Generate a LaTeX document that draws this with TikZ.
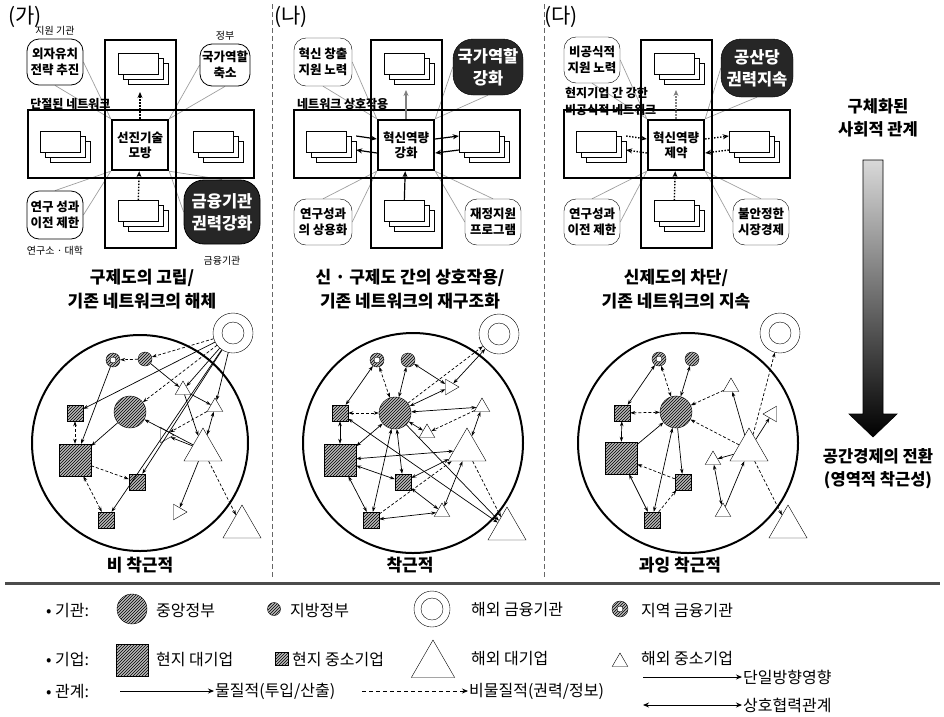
\documentclass[tikz,border=0pt]{standalone}
\usepackage{fontspec}
\setmainfont{Noto Sans CJK KR}
\usetikzlibrary{arrows.meta,shapes.geometric,patterns,shadows,positioning}
\pgfdeclarelayer{back}
\pgfsetlayers{back,main}

\tikzset{
  frame/.style={draw, line width=2.4pt},
  card/.style={draw, fill=white, minimum width=40pt, minimum height=21pt, inner sep=0pt,
    double copy shadow={shadow xshift=5pt, shadow yshift=-5pt, draw=black, fill=white}},
  hub/.style={draw, fill=white, line width=2.4pt, minimum width=56pt, minimum height=50pt,
    inner sep=0pt, align=center, font=\bfseries\fontsize{12.5}{15}\selectfont},
  bubble/.style={draw, fill=white, rounded corners=12pt, inner sep=0pt, align=center,
    font=\bfseries\fontsize{12.5}{15.5}\selectfont},
  darkbubble/.style={bubble, fill=black!85, text=white, rounded corners=20pt,
    font=\bfseries\fontsize{16.5}{22}\selectfont},
  tag/.style={inner sep=0pt, font=\fontsize{10}{12}\selectfont},
  netlabel/.style={inner sep=0pt, anchor=west, align=left, font=\bfseries\fontsize{12}{17}\selectfont},
  pointer/.style={draw=gray!75, line width=0.7pt},
  dotarrow/.style={line width=1.4pt, dash pattern=on 1.4pt off 1.6pt, -{Stealth[length=6pt,width=5pt]}},
  flow/.style={line width=1.2pt, -{Stealth[length=6pt,width=5pt]}},
  paneltitle/.style={align=center, font=\bfseries\fontsize{17}{24}\selectfont},
  panelno/.style={font=\fontsize{21}{23}\selectfont},
  sidetext/.style={align=center, font=\bfseries\fontsize{16.5}{23}\selectfont},
  legtext/.style={anchor=west, inner sep=1pt, font=\fontsize{16}{18}\selectfont},
  hatch/.style={preaction={fill=gray!55}, pattern=north east lines},
  cgov/.style={circle, draw, hatch, minimum size=32pt, inner sep=0pt},
  lgov/.style={circle, draw, hatch, minimum size=14pt, inner sep=0pt},
  rfin/.style={lgov, path picture={\draw[fill=white] (path picture bounding box.center) circle (3pt);}},
  ffin/.style={circle, draw, fill=white, minimum size=40pt, inner sep=0pt,
    path picture={\draw (path picture bounding box.center) circle (11pt);}},
  lbig/.style={rectangle, draw, hatch, minimum size=32pt, inner sep=0pt},
  lsme/.style={rectangle, draw, hatch, minimum size=16pt, inner sep=0pt},
  fbig/.style={regular polygon, regular polygon sides=3, draw, fill=white, minimum size=44pt, inner sep=0pt},
  fsme/.style={regular polygon, regular polygon sides=3, draw, fill=white, minimum size=18pt, inner sep=0pt},
  rel/.style={line width=0.7pt, -{Stealth[length=5pt,width=3.5pt]}},
  mutual/.style={line width=0.7pt, {Stealth[length=5pt,width=3.5pt]}-{Stealth[length=5pt,width=3.5pt]}},
  soft/.style={dash pattern=on 3pt off 2pt},
  sep/.style={draw=black!60, line width=0.8pt, dash pattern=on 5pt off 3pt},
}

\begin{document}
\begin{tikzpicture}[x=1pt, y=-1pt, line width=0.8pt]
\useasboundingbox (0,0) rectangle (944,716);

% (가)
\node[panelno] (pa) at (25,17) {(가)};
\draw[frame] (105,40) rectangle (176,248);
\draw[frame] (28,110) rectangle (254,178);
\node[card] (aN) at (138,64) {};
\node[card] (aW) at (60,142) {};
\node[card] (aE) at (213,142) {};
\node[card] (aS) at (138,211) {};
\node[hub] (aC) at (140,145) {선진기술\\모방};
\node[bubble, minimum width=56pt, minimum height=46pt] (aTL) at (55,62) {외자유치\\전략 추진};
\node[bubble, minimum width=50pt, minimum height=42pt] (aTR) at (225,65) {국가역할\\축소};
\node[bubble, minimum width=56pt, minimum height=48pt] (aBL) at (55,215) {연구 성과\\이전 제한};
\node[darkbubble, minimum width=76pt, minimum height=64pt] (aBR) at (222,212) {금융기관\\권력강화};
\node[tag, above=3pt of aTL] (aTLt) {지원 기관};
\node[tag, above=3pt of aTR] (aTRt) {정부};
\node[tag, below=6pt of aBL] (aBLt) {연구소 · 대학};
\node[tag, below=11pt of aBR] (aBRt) {금융기관};
\node[netlabel] (aNet) at (30,104) {단절된 네트워크};
\coordinate (aNtip) at (140,92);
\draw[dotarrow] (aC) -- (aNtip);
\draw[dotarrow] (aS) -- (aC);
\begin{pgfonlayer}{back}
  \draw[pointer] (aTL.east) -- (aC.north west) -- (aTL.south);
  \draw[pointer] (aTR.west) -- (aC.north east) -- (aTR.south);
  \draw[pointer] (aBL.north) -- (aC.south west) -- (aBL.east);
  \draw[pointer] (aBR.north) -- (aC.south east) -- (aBR.west);
\end{pgfonlayer}

% (나)
\begin{scope}[xshift=266pt]
\node[panelno] (pb) at (25,17) {(나)};
\draw[frame] (105,40) rectangle (176,248);
\draw[frame] (28,110) rectangle (254,178);
\node[card] (bN) at (138,64) {};
\node[card] (bW) at (60,142) {};
\node[card] (bE) at (213,142) {};
\node[card] (bS) at (138,211) {};
\node[hub] (bC) at (140,145) {혁신역량\\강화};
\node[bubble, minimum width=58pt, minimum height=48pt] (bTL) at (57,62) {혁신 창출\\지원 노력};
\node[darkbubble, minimum width=70pt, minimum height=56pt] (bTR) at (222,67) {국가역할\\강화};
\node[bubble, minimum width=58pt, minimum height=46pt] (bBL) at (57,222) {연구성과\\의 상용화};
\node[bubble, minimum width=56pt, minimum height=46pt] (bBR) at (227,222) {재정지원\\프로그램};
\node[netlabel] (bNet) at (31,104) {네트워크 상호작용};
\coordinate (bNtip) at (140,90);
\draw[flow, gray] (bC) -- (bNtip);
\draw[flow] ([xshift=10pt,yshift=6pt]bW.east) -- ([yshift=6pt]bC.west);
\draw[flow] ([yshift=-8pt]bC.west) -- ([xshift=10pt,yshift=-8pt]bW.east);
\draw[flow] ([yshift=6pt]bC.east) -- ([yshift=6pt]bE.west);
\draw[flow] ([yshift=-8pt]bE.west) -- ([yshift=-8pt]bC.east);
\draw[flow] (bS) -- (bC);
\begin{pgfonlayer}{back}
  \draw[pointer] (bTL.east) -- (bC.north west) -- (bTL.south);
  \draw[pointer] (bTR.west) -- (bC.north east) -- (bTR.south);
  \draw[pointer] (bBL.north) -- (bC.south west) -- (bBL.east);
  \draw[pointer] (bBR.north) -- (bC.south east) -- (bBR.west);
\end{pgfonlayer}
\end{scope}

% (다)
\begin{scope}[xshift=536pt]
\node[panelno] (pc) at (25,17) {(다)};
\draw[frame] (105,40) rectangle (176,248);
\draw[frame] (28,110) rectangle (254,178);
\node[card] (cN) at (138,64) {};
\node[card] (cW) at (60,142) {};
\node[card] (cE) at (213,142) {};
\node[card] (cS) at (138,211) {};
\node[hub] (cC) at (140,145) {혁신역량\\제약};
\node[bubble, minimum width=56pt, minimum height=46pt] (cTL) at (56,60) {비공식적\\지원 노력};
\node[darkbubble, minimum width=72pt, minimum height=58pt] (cTR) at (221,68) {공산당\\권력지속};
\node[bubble, minimum width=56pt, minimum height=46pt] (cBL) at (56,222) {연구성과\\이전 제한};
\node[bubble, minimum width=56pt, minimum height=46pt] (cBR) at (225,222) {불안정한\\시장경제};
\node[netlabel] (cNet) at (29,101) {현지기업 간 강한\\비공식적 네트워크};
\coordinate (cNtip) at (140,90);
\draw[dotarrow, gray] (cC) -- (cNtip);
\draw[dotarrow] ([xshift=10pt,yshift=6pt]cW.east) -- ([yshift=6pt]cC.west);
\draw[dotarrow] ([yshift=-8pt]cC.west) -- ([xshift=10pt,yshift=-8pt]cW.east);
\draw[dotarrow] ([yshift=6pt]cC.east) -- ([yshift=6pt]cE.west);
\draw[dotarrow] ([yshift=-8pt]cE.west) -- ([yshift=-8pt]cC.east);
\draw[dotarrow] (cS) -- (cC);
\begin{pgfonlayer}{back}
  \draw[pointer] (cTL.east) -- (cC.north west) -- (cTL.south);
  \draw[pointer] (cTR.west) -- (cC.north east) -- (cTR.south);
  \draw[pointer] (cBL.north) -- (cC.south west) -- (cBL.east);
  \draw[pointer] (cBR.north) -- (cC.south east) -- (cBR.west);
\end{pgfonlayer}
\end{scope}

% titles
\node[paneltitle] (ta) at (142,289) {구제도의 고립/\\기존 네트워크의 해체};
\node[paneltitle] (tb) at (410,289) {신 · 구제도 간의 상호작용/\\기존 네트워크의 재구조화};
\node[paneltitle] (tc) at (676,289) {신제도의 차단/\\기존 네트워크의 지속};
\node[paneltitle] (ba) at (140,565) {비 착근적};
\node[paneltitle] (bb) at (410,565) {착근적};
\node[paneltitle] (bc) at (680,565) {과잉 착근적};

% separators
\draw[sep] (272,4) -- (272,578);
\draw[sep] (544,4) -- (544,578);

% right arrow
\node[sidetext] (rt) at (878,118) {구체화된\\사회적 관계};
\shadedraw[top color=gray!30, bottom color=black, line width=0.6pt]
  (863,160) -- (883,160) -- (883,414) -- (897,414) -- (873,437) -- (849,414) -- (863,414) -- cycle;
\node[sidetext] (rb) at (878,469) {공간경제의 전환\\(영역적 착근성)};

% network (가)
\draw[line width=2pt] (140,443) circle (108);
\node[ffin] (aFF) at (233,333) {};
\node[rfin] (aRF) at (113,360) {};
\node[lgov] (aLG) at (145,359) {};
\node[cgov] (aCG) at (130,412) {};
\node[lsme] (aS1) at (75,413) {};
\node[lbig] (aL1) at (75,460) {};
\node[lsme] (aS2) at (137,482) {};
\node[lsme] (aS3) at (106,520) {};
\node[fsme] (aT1) at (183,390) {};
\node[fsme] (aT2) at (215,407) {};
\node[fsme, shape border rotate=-90] (aT3) at (165,435) {};
\node[fbig] (aTB) at (203,450) {};
\node[fsme, shape border rotate=-90] (aT4) at (178,512) {};
\node[fbig] (aTF) at (242,527) {};
\draw[rel,soft] (aFF) -- (aLG);
\draw[rel,soft] (aLG) -- (aRF);
\draw[rel] (aFF) -- (aS1);
\draw[rel,soft] (aFF) -- (aCG);
\draw[rel] (aFF) -- (aS2);
\draw[rel] (aFF) -- (aS3);
\draw[rel] (aFF) -- (aT1);
\draw[rel] (aFF) -- (aT2);
\draw[rel] (aRF) -- (aL1);
\draw[rel] (aCG) -- (aL1);
\draw[rel] (aTB) -- (aCG);
\draw[rel] (aTB) -- (aT3);
\draw[rel,soft] (aT2) -- (aT3);
\draw[rel] (aLG) -- (aT1);
\draw[rel] (aT1) -- (aTB);
\draw[rel] (aT1) -- (aT2);
\draw[mutual] (aT2) -- (aTB);
\draw[rel] (aTB) -- (aT4);
\draw[rel,soft] (aTB) -- (aTF);
\draw[mutual,soft] (aS1) -- (aL1);
\draw[rel,soft] (aL1) -- (aS2);
\draw[mutual,soft] (aL1) -- (aS3);

% network (나)
\draw[line width=2pt] (413,443) circle (110);
\node[ffin] (bFF) at (499,334) {};
\node[rfin] (bRF) at (377,360) {};
\node[lgov] (bLG) at (408,360) {};
\node[cgov] (bCG) at (395,413) {};
\node[lsme] (bS1) at (340,413) {};
\node[lbig] (bL1) at (340,460) {};
\node[lsme] (bS2) at (403,482) {};
\node[lsme] (bS3) at (371,520) {};
\node[fsme, shape border rotate=-90] (bT1) at (450,387) {};
\node[fsme] (bT2) at (482,407) {};
\node[fsme] (bT3) at (427,433) {};
\node[fbig] (bTB) at (467,450) {};
\node[fsme] (bT4) at (442,512) {};
\node[fbig] (bTF) at (507,529) {};
\draw[mutual] (bRF) -- (bS1);
\draw[mutual,soft] (bRF) -- (bCG);
\draw[mutual] (bLG) -- (bCG);
\draw[mutual] (bLG) -- (bT1);
\draw[mutual,soft] (bS1) -- (bCG);
\draw[mutual] (bS1) -- (bL1);
\draw[mutual] (bS1) -- (bTF);
\draw[mutual] (bCG) -- (bT1);
\draw[mutual] (bCG) -- (bT2);
\draw[mutual] (bCG) -- (bT3);
\draw[mutual] (bCG) -- (bS2);
\draw[mutual] (bCG) -- (bL1);
\draw[mutual] (bCG) -- (bS3);
\draw[rel] (bCG) -- (bTF);
\draw[rel,soft] (bCG) -- (bFF);
\draw[mutual] (bT1) -- (bFF);
\draw[mutual] (bL1) -- (bTB);
\draw[mutual] (bL1) -- (bS2);
\draw[mutual] (bL1) -- (bS3);
\draw[mutual] (bS2) -- (bTB);
\draw[mutual] (bS2) -- (bT4);
\draw[mutual] (bS3) -- (bT4);
\draw[rel,soft] (bS3) -- (bTB);
\draw[mutual] (bTB) -- (bT2);
\draw[rel,soft] (bT2) -- (bT3);
\draw[rel,soft] (bTB) -- (bTF);
\draw[mutual] (bT4) -- (bTB);

% network (다)
\draw[line width=2pt] (688,443) circle (110);
\node[ffin] (cFF) at (780,333) {};
\node[rfin] (cRF) at (659,359) {};
\node[lgov] (cLG) at (692,359) {};
\node[cgov] (cCG) at (676,412) {};
\node[lsme] (cS1) at (622,413) {};
\node[lbig] (cL1) at (621,458) {};
\node[lsme] (cS2) at (683,482) {};
\node[lsme] (cS3) at (652,520) {};
\node[fsme] (cT1) at (731,387) {};
\node[fsme, shape border rotate=90] (cT2) at (772,414) {};
\node[fsme] (cT3) at (713,460) {};
\node[fbig] (cTB) at (749,450) {};
\node[fsme] (cT4) at (723,512) {};
\node[fbig] (cTF) at (788,527) {};
\draw[mutual] (cRF) -- (cS1);
\draw[mutual,soft] (cRF) -- (cCG);
\draw[mutual] (cLG) -- (cCG);
\draw[mutual,soft] (cS1) -- (cCG);
\draw[mutual] (cS1) -- (cL1);
\draw[rel] (cL1) -- (cCG);
\draw[rel,soft] (cS2) -- (cL1);
\draw[mutual] (cL1) -- (cS3);
\draw[mutual] (cCG) -- (cS3);
\draw[rel] (cCG) -- (cS2);
\draw[rel,soft] (cS3) -- (cS2);
\draw[rel,soft] (cT1) -- (cCG);
\draw[rel,soft] (cTB) -- (cCG);
\draw[rel] (cTB) -- (cT1);
\draw[rel] (cTB) -- (cT3);
\draw[rel] (cTB) -- (cT2);
\draw[rel,soft] (cTB) -- (cFF);
\draw[mutual] (cT3) -- (cT4);
\draw[rel] (cT4) -- (cTB);
\draw[rel,soft] (cTB) -- (cTF);

% legend
\draw[line width=3pt, black!70] (5,583) -- (940,583);
\node[legtext] (k1) at (45,610) {• 기관:};
\node[cgov, minimum size=30pt] (k1a) at (132,609) {};
\node[legtext] (k1at) at (155,610) {중앙정부};
\node[lgov, minimum size=13pt] (k1b) at (274,609) {};
\node[legtext] (k1bt) at (289,610) {지방정부};
\node[ffin, minimum size=36pt] (k1c) at (432,609) {};
\node[legtext] (k1ct) at (470,610) {해외 금융기관};
\node[rfin, minimum size=16pt] (k1d) at (620,609) {};
\node[legtext] (k1dt) at (640,610) {지역 금융기관};
\node[legtext] (k2) at (45,659) {• 기업:};
\node[lbig, minimum size=32pt] (k2a) at (132,660) {};
\node[legtext] (k2at) at (155,659) {현지 대기업};
\node[lsme, minimum size=13pt] (k2b) at (282,659) {};
\node[legtext] (k2bt) at (291,659) {현지 중소기업};
\node[fbig, minimum size=50pt] (k2c) at (433,665) {};
\node[legtext] (k2ct) at (470,659) {해외 대기업};
\node[fsme, minimum size=18pt] (k2d) at (620,662) {};
\node[legtext] (k2dt) at (640,659) {해외 중소기업};
\node[legtext] (k3) at (45,691) {• 관계:};
\coordinate (k3a) at (120,691);
\node[legtext] (k3at) at (214,691) {물질적(투입/산출)};
\draw[flow, line width=0.9pt] (k3a) -- (k3at);
\coordinate (k3b) at (362,691);
\node[legtext] (k3bt) at (468,691) {비물질적(권력/정보)};
\draw[flow, line width=0.9pt, dash pattern=on 4pt off 3pt] (k3b) -- (k3bt);
\coordinate (k3c) at (643,677);
\node[legtext] (k3ct) at (742,677) {단일방향영향};
\draw[flow, line width=0.9pt] (k3c) -- (k3ct);
\coordinate (k3d) at (643,705);
\node[legtext] (k3dt) at (742,705) {상호협력관계};
\draw[line width=0.9pt, {Stealth[length=6pt,width=5pt]}-{Stealth[length=6pt,width=5pt]}] (k3d) -- (k3dt);
\end{tikzpicture}
\end{document}
